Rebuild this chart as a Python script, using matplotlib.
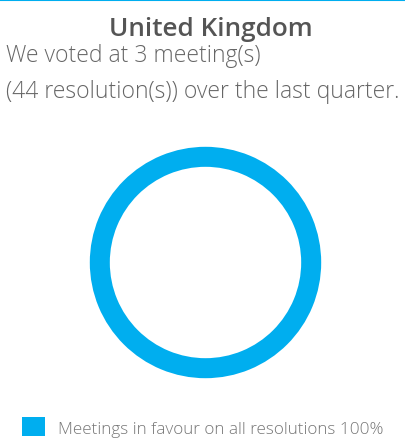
import matplotlib.pyplot as plt
from matplotlib.lines import Line2D

country = "United Kingdom"
meetings = 3
resolutions = 44
categories = ["Meetings in favour on all resolutions"]
shares = [100]
colors = ["#00aeef"]

W, H = 405, 439
fig = plt.figure(figsize=(W / 100, H / 100), dpi=100)
plt.rcParams['font.family'] = ['Open Sans', 'DejaVu Sans']

# thin rule along the top edge
fig.add_artist(Line2D([0, 1], [1 - 1 / H, 1 - 1 / H], color=colors[0], lw=1.5, transform=fig.transFigure))

fig.text(211 / W, 1 - 30 / H, country, ha="center", va="center", fontsize=18.8, fontweight="semibold", color="#555555")
fig.text(6 / W, 1 - 56 / H, "We voted at %d meeting(s)" % meetings, ha="left", va="center",
         fontsize=16.5, color="#666666", fontweight="light")
fig.text(6 / W, 1 - 92 / H, "(%d resolution(s)) over the last quarter." % resolutions, ha="left", va="center",
         fontsize=16.5, color="#666666", fontweight="light")

cx, cy, r = 205.5, 263.5, 115.7
ax = fig.add_axes([(cx - r) / W, 1 - (cy + r) / H, 2 * r / W, 2 * r / H])
wedges, _ = ax.pie(shares, colors=colors, startangle=90, counterclock=False,
                   wedgeprops=dict(width=0.173, linewidth=0))
ax.set_xlim(-1, 1)
ax.set_ylim(-1, 1)
ax.axis("off")

labels = ["%s %d%%" % (c, s) for c, s in zip(categories, shares)]
fig.legend(wedges, labels, loc="center left", bbox_to_anchor=(7 / W, 1 - 428 / H),
           frameon=False, handlelength=1.3, handleheight=1.3, handletextpad=0.8,
           labelcolor="#777777", prop=dict(weight="light", size=12.3))

fig.savefig("out.png", dpi=100)
